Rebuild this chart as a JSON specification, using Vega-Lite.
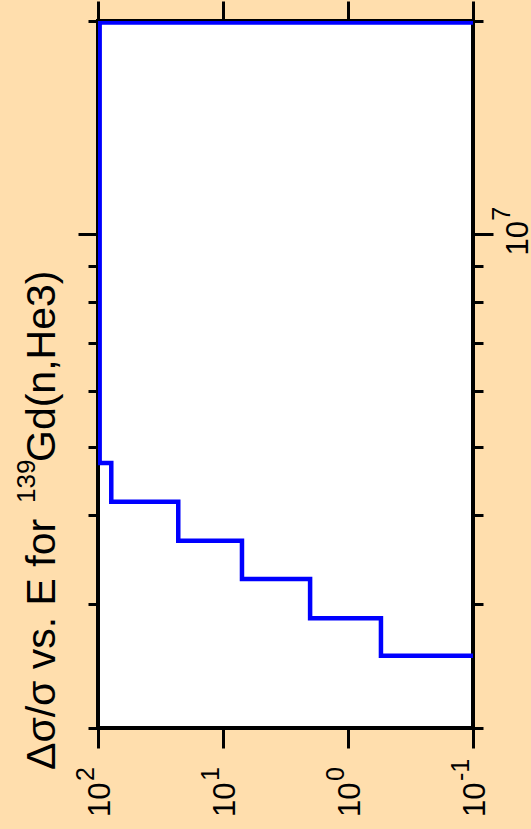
{
  "$schema": "https://vega.github.io/schema/vega-lite/v6.json",
  "width": 375,
  "height": 707,
  "autosize": {"type": "none"},
  "padding": {"left": 98, "top": 21, "right": 58, "bottom": 101},
  "background": "#ffdead",
  "view": {"fill": "white", "stroke": "black", "strokeWidth": 4},
  "datasets": {
    "curve": [
      {"E": 1500000, "ratio": 0.01},
      {"E": 2530000, "ratio": 0.545},
      {"E": 2860000, "ratio": 2.01},
      {"E": 3250000, "ratio": 7.05},
      {"E": 3680000, "ratio": 22.8},
      {"E": 4180000, "ratio": 78.3},
      {"E": 4740000, "ratio": 97},
      {"E": 19900000, "ratio": 0.01}
    ],
    "xexp": [
      {"ratio": 100, "exp": "2"},
      {"ratio": 10, "exp": "1"},
      {"ratio": 1, "exp": "0"},
      {"ratio": 0.1, "exp": "-1"}
    ],
    "yexp": [
      {"E": 10000000, "exp": "7"}
    ],
    "title": [
      {"part": "main", "text": "Δσ/σ vs. E for"},
      {"part": "sup", "text": "139"},
      {"part": "rest", "text": "Gd(n,He3)"}
    ]
  },
  "layer": [
    {
      "data": {"name": "curve"},
      "mark": {"type": "line", "interpolate": "step-before", "color": "#0000ff", "strokeWidth": 4.5, "clip": true},
      "encoding": {
        "x": {
          "field": "ratio", "type": "quantitative",
          "scale": {"type": "log", "domain": [0.1, 100], "reverse": true, "nice": false},
          "axis": {
            "orient": "bottom", "values": [0.1, 1, 10, 100], "tickSize": 20, "tickWidth": 3, "tickColor": "black",
            "domain": false, "grid": false, "title": null,
            "labelExpr": "'10'",
            "labelAngle": 270, "labelAlign": "right", "labelBaseline": "alphabetic", "labelOffset": 11,
            "labelFont": "Liberation Sans", "labelFontSize": 31, "labelColor": "black", "labelPadding": 34,
            "labelOverlap": false, "labelFlush": false, "labelBound": false
          }
        },
        "y": {
          "field": "E", "type": "quantitative",
          "scale": {"type": "log", "domain": [2000000, 20000000], "nice": false},
          "axis": {
            "orient": "left",
            "values": [2000000, 3000000, 4000000, 5000000, 6000000, 7000000, 8000000, 9000000, 10000000, 20000000],
            "tickSize": {"condition": {"test": "datum.value == 10000000", "value": 20}, "value": 10},
            "tickWidth": 3, "tickColor": "black", "domain": false, "grid": false, "labels": false, "title": null
          }
        },
        "order": {"field": "E", "type": "quantitative"}
      }
    },
    {
      "data": {"name": "curve"},
      "mark": {"type": "point", "opacity": 0},
      "encoding": {
        "x": {
          "field": "ratio", "type": "quantitative",
          "axis": {
            "orient": "top", "values": [0.1, 1, 10, 100], "tickSize": 20, "tickWidth": 3, "tickColor": "black",
            "domain": false, "grid": false, "title": null, "labels": false
          }
        },
        "y": {
          "field": "E", "type": "quantitative",
          "axis": {
            "orient": "right",
            "values": [2000000, 3000000, 4000000, 5000000, 6000000, 7000000, 8000000, 9000000, 10000000, 20000000],
            "tickSize": {"condition": {"test": "datum.value == 10000000", "value": 20}, "value": 10},
            "tickWidth": 3, "tickColor": "black", "domain": false, "grid": false, "title": null,
            "labelExpr": "datum.value == 10000000 ? '10' : ''",
            "labelAngle": 270, "labelAlign": "center", "labelBaseline": "alphabetic", "labelOffset": 4,
            "labelFont": "Liberation Sans", "labelFontSize": 31, "labelColor": "black", "labelPadding": 34,
            "labelOverlap": false, "labelFlush": false, "labelBound": false
          }
        }
      }
    },
    {
      "data": {"name": "xexp"},
      "mark": {"type": "text", "angle": 270, "align": "left", "baseline": "alphabetic", "font": "Liberation Sans", "fontSize": 25, "color": "black", "dx": -53, "dy": -4},
      "encoding": {
        "x": {"field": "ratio", "type": "quantitative", "axis": null},
        "y": {"datum": 2000000, "type": "quantitative", "axis": null},
        "text": {"field": "exp"}
      }
    },
    {
      "data": {"name": "yexp"},
      "mark": {"type": "text", "angle": 270, "align": "left", "baseline": "alphabetic", "font": "Liberation Sans", "fontSize": 25, "color": "black", "dx": 13, "dy": 37},
      "encoding": {
        "x": {"datum": 0.1, "type": "quantitative", "axis": null},
        "y": {"field": "E", "type": "quantitative", "axis": null},
        "text": {"field": "exp"}
      }
    },
    {
      "data": {"name": "title"},
      "transform": [{"filter": "datum.part == 'main'"}],
      "mark": {"type": "text", "angle": 270, "align": "left", "baseline": "alphabetic", "font": "Liberation Sans", "fontSize": 41, "color": "black", "dx": -42, "dy": -43},
      "encoding": {
        "x": {"datum": 100, "type": "quantitative", "axis": null},
        "y": {"datum": 2000000, "type": "quantitative", "axis": null},
        "text": {"field": "text"}
      }
    },
    {
      "data": {"name": "title"},
      "transform": [{"filter": "datum.part == 'sup'"}],
      "mark": {"type": "text", "angle": 270, "align": "left", "baseline": "alphabetic", "font": "Liberation Sans", "fontSize": 26, "color": "black", "dx": 225, "dy": -63},
      "encoding": {
        "x": {"datum": 100, "type": "quantitative", "axis": null},
        "y": {"datum": 2000000, "type": "quantitative", "axis": null},
        "text": {"field": "text"}
      }
    },
    {
      "data": {"name": "title"},
      "transform": [{"filter": "datum.part == 'rest'"}],
      "mark": {"type": "text", "angle": 270, "align": "left", "baseline": "alphabetic", "font": "Liberation Sans", "fontSize": 41, "color": "black", "dx": 266, "dy": -43},
      "encoding": {
        "x": {"datum": 100, "type": "quantitative", "axis": null},
        "y": {"datum": 2000000, "type": "quantitative", "axis": null},
        "text": {"field": "text"}
      }
    }
  ],
  "resolve": {"axis": {"x": "independent", "y": "independent"}}
}
